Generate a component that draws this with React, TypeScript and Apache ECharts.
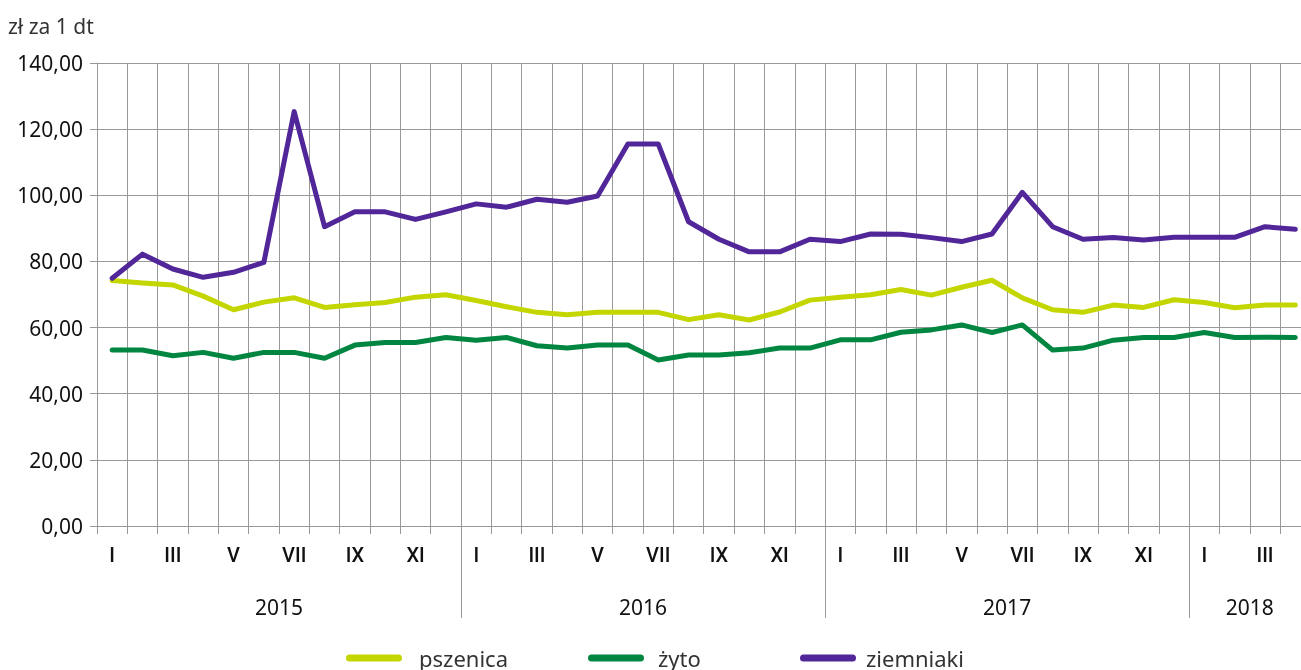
import React, { useEffect, useRef } from "react";
import * as echarts from "echarts";

const months = ["I", "II", "III", "IV", "V", "VI", "VII", "VIII", "IX", "X", "XI", "XII"];
const years = ["2015", "2016", "2017", "2018"];
const monthsPerYear = [12, 12, 12, 4];
const categories: string[] = [];
years.forEach((y, i) => {
  for (let m = 0; m < monthsPerYear[i]; m++) categories.push(months[m]);
});

const pszenica = [
  74.2, 73.5, 72.9, 69.5, 65.4, 67.7, 69.0, 66.1, 66.9, 67.6, 69.2, 69.9,
  68.2, 66.3, 64.6, 63.9, 64.6, 64.6, 64.6, 62.4, 63.9, 62.3, 64.7, 68.3,
  69.2, 69.9, 71.5, 69.8, 72.2, 74.3, 69.0, 65.4, 64.6, 66.8, 66.1, 68.4,
  67.6, 66.0, 66.8, 66.8,
];
const zyto = [
  53.2, 53.2, 51.5, 52.5, 50.7, 52.5, 52.5, 50.7, 54.7, 55.5, 55.5, 57.0,
  56.2, 57.0, 54.5, 53.8, 54.7, 54.7, 50.2, 51.7, 51.7, 52.4, 53.8, 53.8,
  56.3, 56.3, 58.6, 59.3, 60.8, 58.5, 60.8, 53.2, 53.8, 56.2, 57.0, 57.0,
  58.5, 57.0, 57.1, 57.0,
];
const ziemniaki = [
  74.9, 82.2, 77.7, 75.2, 76.7, 79.7, 125.3, 90.5, 95.0, 95.0, 92.7, 95.0,
  97.4, 96.4, 98.8, 97.9, 99.8, 115.5, 115.5, 92.0, 86.7, 82.9, 82.9, 86.7,
  86.0, 88.3, 88.2, 87.2, 86.0, 88.3, 100.9, 90.5, 86.7, 87.2, 86.5, 87.3,
  87.3, 87.3, 90.5, 89.7,
];

const seriesNames = ["pszenica", "żyto", "ziemniaki"];
const seriesColors = ["#c3d600", "#008641", "#512698"];
const seriesData = [pszenica, zyto, ziemniaki];

// year boundaries and centres in month units
const yearBounds: number[] = [];
const yearCenters: number[] = [];
{
  let acc = 0;
  monthsPerYear.forEach((n, i) => {
    yearCenters.push(acc + n / 2);
    acc += n;
    if (i < monthsPerYear.length - 1) yearBounds.push(acc);
  });
}
const totalMonths = categories.length;

const FONT = "'Noto Sans', sans-serif";
const GRID = "#999999";
const legendLeft = [341, 583, 795];
const legendTextGap = [12, 9, 5];
const legendIcon = "path://M3.5,0H52.5A3.5,3.5,0,0,1,52.5,7H3.5A3.5,3.5,0,0,1,3.5,0Z";

export default function App() {
  const ref = useRef<HTMLDivElement>(null);
  useEffect(() => {
    if (!ref.current) return;
    const chart = echarts.init(ref.current, null, { renderer: "svg" });
    chart.setOption({
      animation: false,
      title: {
        text: "zł za 1 dt",
        left: 3,
        top: 10,
        textStyle: { fontFamily: FONT, fontSize: 21, fontWeight: "normal", color: "#333" },
      },
      legend: seriesNames.map((n, i) => ({
        data: [n],
        left: legendLeft[i],
        top: 642,
        icon: legendIcon,
        itemWidth: 56,
        itemHeight: 7,
        textStyle: {
          fontFamily: FONT,
          fontSize: 22,
          color: "#333",
          padding: [0, 0, 0, legendTextGap[i]],
        },
      })),
      grid: { left: 97, right: 9.5, top: 63, bottom: 144, containLabel: false },
      xAxis: [
        {
          type: "category",
          position: "bottom",
          data: categories,
          boundaryGap: true,
          axisLine: { show: true, lineStyle: { color: GRID, width: 1 } },
          axisTick: { show: true, interval: 0, length: 8, lineStyle: { color: GRID } },
          splitLine: { show: true, interval: 0, lineStyle: { color: GRID, width: 1 } },
          axisLabel: {
            interval: 1,
            margin: 19,
            fontFamily: "Roboto, sans-serif",
            fontWeight: 500,
            fontSize: 20,
            color: "#111",
          },
        },
        {
          type: "value",
          position: "bottom",
          min: 0,
          max: totalMonths,
          axisLine: { show: false },
          splitLine: { show: false },
          axisTick: { show: true, customValues: yearBounds, length: 92, lineStyle: { color: GRID } },
          axisLabel: {
            customValues: yearCenters,
            margin: 70,
            fontFamily: FONT,
            fontSize: 21,
            color: "#111",
            formatter: (v: number) => {
              const idx = yearCenters.findIndex((c) => Math.abs(c - v) < 1e-6);
              return idx >= 0 ? years[idx] : "";
            },
          },
        },
      ],
      yAxis: {
        type: "value",
        min: 0,
        max: 140,
        interval: 20,
        axisLine: { show: true, lineStyle: { color: GRID } },
        axisTick: { show: true, length: 7, lineStyle: { color: GRID } },
        splitLine: { show: true, lineStyle: { color: GRID, width: 1 } },
        axisLabel: {
          margin: 14,
          fontFamily: FONT,
          fontSize: 21,
          color: "#111",
          formatter: (v: number) => v.toFixed(2).replace(".", ","),
        },
      },
      series: seriesNames.map((n, i) => ({
        name: n,
        type: "line",
        xAxisIndex: 0,
        data: seriesData[i],
        symbol: "none",
        color: seriesColors[i],
        lineStyle: { color: seriesColors[i], width: 5, cap: "round", join: "round" },
      })),
    });
    return () => chart.dispose();
  }, []);
  return (
    <div
      style={{
        position: "fixed",
        left: 0,
        top: 0,
        width: 1301,
        height: 670,
        overflow: "hidden",
      }}
    >
      <div ref={ref} style={{ width: 1320, height: 670 }} />
    </div>
  );
}
